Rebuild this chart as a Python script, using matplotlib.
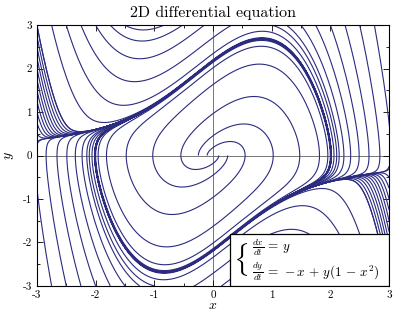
import numpy as np
import matplotlib
matplotlib.use("Agg")
import matplotlib.pyplot as plt
from matplotlib.patches import Rectangle

plt.rcParams['mathtext.fontset'] = 'cm'
plt.rcParams['font.family'] = ['cmr10', 'DejaVu Serif']
plt.rcParams['axes.unicode_minus'] = False
plt.rcParams['axes.formatter.use_mathtext'] = True

# ---- data ----
title = "2D differential equation"
mu = 1.0
edge_step = 0.25
inner_seeds_x = [-0.25, -0.1, 0.1, 0.25]
t_max = 12.0
dt = 0.01
xticks = [-3, -2, -1, 0, 1, 2, 3]
yticks = [-3, -2, -1, 0, 1, 2, 3]
xlim = (-3, 3)
ylim = (-3, 3)
line_color = '#2b2b80'


def f(p):
    x, y = p
    return np.array([y, -x + mu * y * (1 - x ** 2)])


def integrate(p0, tmax):
    pts = [np.array(p0, float)]
    p = np.array(p0, float)
    n = int(tmax / dt)
    for _ in range(n):
        k1 = f(p)
        k2 = f(p + dt / 2 * k1)
        k3 = f(p + dt / 2 * k2)
        k4 = f(p + dt * k3)
        p = p + dt / 6 * (k1 + 2 * k2 + 2 * k3 + k4)
        pts.append(p.copy())
        if abs(p[0]) > 3.05 or abs(p[1]) > 3.05:
            break
    return np.array(pts)


seeds = []
vals = np.arange(-3, 3 + 1e-9, edge_step)
for v in vals:
    for p in [(-3, v), (3, v), (v, 3), (v, -3)]:
        d = f(np.array(p, float))
        inward = -np.sign(p[0]) * d[0] if abs(p[0]) == 3 else -np.sign(p[1]) * d[1]
        if inward > 0:
            seeds.append(p)
for x0 in inner_seeds_x:
    seeds.append((x0, 0.0))

fig = plt.figure(figsize=(3.97, 3.18), dpi=100)
ax = fig.add_axes([0.093, 0.101, 0.887, 0.82])

for s in seeds:
    tr = integrate(s, t_max)
    ax.plot(tr[:, 0], tr[:, 1], color=line_color, lw=0.8, solid_capstyle='butt')

ax.axhline(0, color='#777777', lw=0.7, zorder=0.5)
ax.axvline(0, color='#777777', lw=0.7, zorder=0.5)

ax.set_xlim(*xlim)
ax.set_ylim(*ylim)
ax.set_xticks(xticks)
ax.set_yticks(yticks)
ax.set_xticklabels([str(t) for t in xticks])
ax.set_yticklabels([str(t) for t in yticks])
ax.set_xticks(np.arange(-3, 3.01, 0.5), minor=True)
ax.set_yticks(np.arange(-3, 3.01, 0.5), minor=True)
ax.tick_params(which='both', direction='in', top=True, right=True, labelsize=8)
ax.tick_params(which='major', length=4, width=0.6)
ax.tick_params(which='minor', length=2, width=0.6)
for sp in ax.spines.values():
    sp.set_linewidth(0.8)

ax.set_title(title, fontsize=11.5, pad=6)
ax.set_xlabel(r'$x$', fontsize=10, labelpad=0)
ax.set_ylabel(r'$y$', fontsize=10, labelpad=5)

box = Rectangle((0.548, 0.0), 0.452, 0.2, transform=ax.transAxes,
                facecolor='white', edgecolor='black', lw=0.9, zorder=5)
ax.add_patch(box)
ax.text(0.556, 0.1, r'$\{$', transform=ax.transAxes, fontsize=20,
        va='center', ha='left', zorder=6)
ax.text(0.61, 0.148, r'$\frac{dx}{dt}\,=\,y$', transform=ax.transAxes,
        fontsize=9.5, va='center', ha='left', zorder=6)
ax.text(0.61, 0.055, r'$\frac{dy}{dt}\,=\,-x\,+\,y(1\,-\,x^2)$', transform=ax.transAxes,
        fontsize=9.5, va='center', ha='left', zorder=6)

fig.savefig('out.png', dpi=100)
